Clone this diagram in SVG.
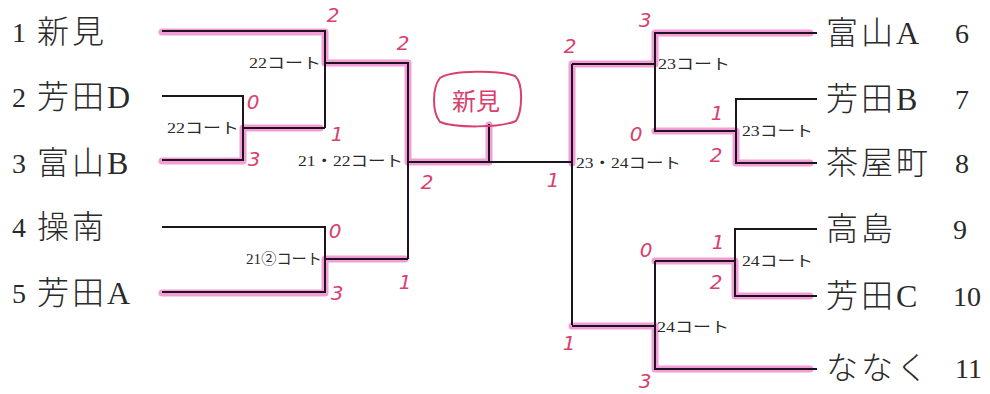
<svg xmlns="http://www.w3.org/2000/svg" width="990" height="394" viewBox="0 0 990 394">
<style>
.bg{fill:#ffffff}
.hl{fill:none;stroke:#f08cce;stroke-width:7;stroke-linejoin:round;stroke-linecap:round;opacity:0.85}
.ln{fill:none;stroke:#1e1420;stroke-width:2}
.team{font-family:"Liberation Serif","Noto Sans CJK JP",serif;font-size:32px;font-weight:300;letter-spacing:3px;fill:#2a2a2a;dominant-baseline:central}
.num{font-family:"Liberation Serif",serif;font-size:28px;fill:#2a2a2a;dominant-baseline:central}
.court{font-family:"Liberation Serif","Noto Sans CJK JP",serif;font-size:15px;fill:#2a2a2a;dominant-baseline:central}
.score{font-family:"DejaVu Sans",sans-serif;font-style:italic;font-size:20px;fill:#d8406e;text-anchor:middle;dominant-baseline:central}
.winbox{fill:none;stroke:#d8406e;stroke-width:2}
.wintext{font-family:"Noto Sans CJK JP",sans-serif;font-size:24px;fill:#d8406e;text-anchor:middle;dominant-baseline:central}
</style>
<rect class="bg" x="0" y="0" width="990" height="394"/>

<g id="highlights">
<path class="hl" d="M162,32 H325 V63 H408 V162 H489 V125"/>
<path class="hl" d="M162,161 H243 V128 H320"/>
<path class="hl" d="M162,293 H325 V259 H405"/>
<path class="hl" d="M810,33 H655 V64 H572 V163"/>
<path class="hl" d="M810,163 H736 V131 H655"/>
<path class="hl" d="M810,296 H735 V261 H655"/>
<path class="hl" d="M810,369 H655 V326 H572"/>
</g>

<g id="connectors">
<path class="ln" d="M162,31 H325 V128"/>
<path class="ln" d="M162,96 H243 V160 H162"/>
<path class="ln" d="M243,128 H325"/>
<path class="ln" d="M325,63 H408 V259"/>
<path class="ln" d="M162,227 H325 V292 H162"/>
<path class="ln" d="M325,259 H408"/>
<path class="ln" d="M408,162 H572"/>
<path class="ln" d="M489,162 V124"/>
<path class="ln" d="M572,64 V325"/>
<path class="ln" d="M572,64 H655"/>
<path class="ln" d="M817,33 H655 V131 H736"/>
<path class="ln" d="M817,99 H736 V163 H817"/>
<path class="ln" d="M572,326 H655"/>
<path class="ln" d="M817,229 H735 V296 H817"/>
<path class="ln" d="M655,261 H735"/>
<path class="ln" d="M655,261 V369 H817"/>
</g>

<g id="team1"><text class="num" x="12" y="32">1</text><text class="team" x="37" y="32">新見</text></g>
<g id="team2"><text class="num" x="12" y="97">2</text><text class="team" x="37" y="97">芳田D</text></g>
<g id="team3"><text class="num" x="12" y="163">3</text><text class="team" x="37" y="163">富山B</text></g>
<g id="team4"><text class="num" x="12" y="227">4</text><text class="team" x="37" y="227">操南</text></g>
<g id="team5"><text class="num" x="12" y="293">5</text><text class="team" x="37" y="293">芳田A</text></g>
<g id="team6"><text class="team" x="826" y="33">富山A</text><text class="num" x="955" y="33">6</text></g>
<g id="team7"><text class="team" x="826" y="99">芳田B</text><text class="num" x="955" y="99">7</text></g>
<g id="team8"><text class="team" x="826" y="163" letter-spacing="4">茶屋町</text><text class="num" x="955" y="163">8</text></g>
<g id="team9"><text class="team" x="826" y="229">高島</text><text class="num" x="953" y="229">9</text></g>
<g id="team10"><text class="team" x="826" y="296">芳田C</text><text class="num" x="953" y="296">10</text></g>
<g id="team11"><text class="team" x="826" y="368">ななく</text><text class="num" x="955" y="368">11</text></g>

<g id="courts">
<text class="court" x="249" y="63" textLength="72" lengthAdjust="spacingAndGlyphs">22コート</text>
<text class="court" x="167" y="128" textLength="72" lengthAdjust="spacingAndGlyphs">22コート</text>
<text class="court" x="298" y="161" textLength="105" lengthAdjust="spacingAndGlyphs">21・22コート</text>
<text class="court" x="246" y="259" font-size="13" textLength="76" lengthAdjust="spacingAndGlyphs">21②コート</text>
<text class="court" x="576" y="163" textLength="105" lengthAdjust="spacingAndGlyphs">23・24コート</text>
<text class="court" x="658" y="64" textLength="72" lengthAdjust="spacingAndGlyphs">23コート</text>
<text class="court" x="742" y="131" textLength="71" lengthAdjust="spacingAndGlyphs">23コート</text>
<text class="court" x="742" y="261" textLength="71" lengthAdjust="spacingAndGlyphs">24コート</text>
<text class="court" x="657" y="327" textLength="72" lengthAdjust="spacingAndGlyphs">24コート</text>
</g>

<g id="scores">
<text class="score" x="333" y="15">2</text>
<text class="score" x="403" y="43">2</text>
<text class="score" x="253" y="102">0</text>
<text class="score" x="337" y="134">1</text>
<text class="score" x="254" y="159">3</text>
<text class="score" x="427" y="182">2</text>
<text class="score" x="335" y="231">0</text>
<text class="score" x="337" y="293">3</text>
<text class="score" x="405" y="282">1</text>
<text class="score" x="570" y="46">2</text>
<text class="score" x="553" y="180">1</text>
<text class="score" x="645" y="20">3</text>
<text class="score" x="636" y="134">0</text>
<text class="score" x="717" y="113">1</text>
<text class="score" x="716" y="155">2</text>
<text class="score" x="646" y="250">0</text>
<text class="score" x="718" y="242">1</text>
<text class="score" x="716" y="282">2</text>
<text class="score" x="569" y="343">1</text>
<text class="score" x="645" y="381">3</text>
</g>

<g id="winner">
<path class="winbox" d="M440,78 C452,70 500,70 515,76 C524,84 522,112 516,121 C500,128 455,128 440,122 C432,112 432,88 440,78 Z"/>
<text class="wintext" x="476" y="99">新見</text>
</g>
</svg>
